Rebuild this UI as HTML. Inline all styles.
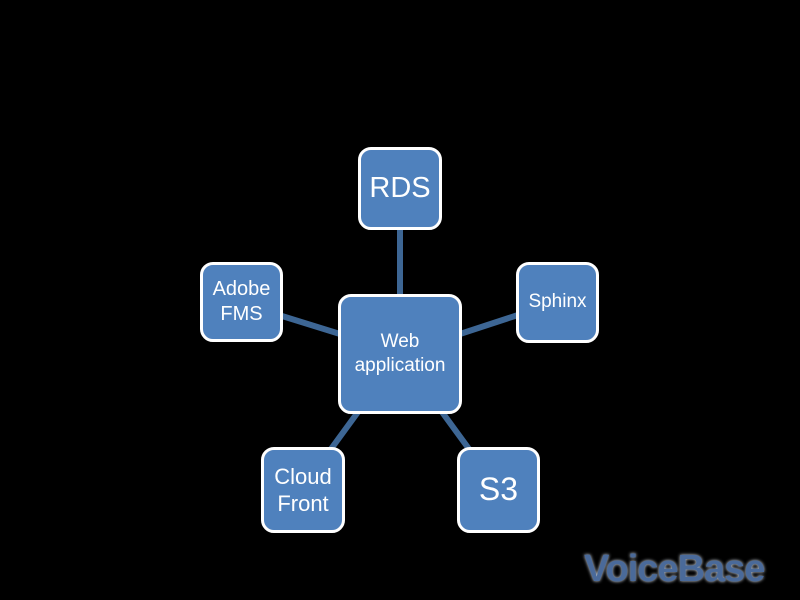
<!DOCTYPE html>
<html><head><style>
html,body{margin:0;padding:0;background:#000;width:800px;height:600px;overflow:hidden;position:relative;font-family:"Liberation Sans",sans-serif}
.b{position:absolute;box-sizing:border-box;background:#4f81bd;border:3px solid #fff;border-radius:13px;color:#fff;display:flex;align-items:center;justify-content:center;text-align:center;line-height:1.3}
</style></head><body>
<svg width="800" height="600" style="position:absolute;left:0;top:0">
<g stroke="#3d6694" stroke-width="6">
<line x1="400" y1="228" x2="400" y2="296"/>
<line x1="282" y1="316" x2="340" y2="334"/>
<line x1="518" y1="315" x2="460" y2="334"/>
<line x1="331" y1="449" x2="358" y2="412"/>
<line x1="469" y1="449" x2="442" y2="412"/>
</g></svg>
<div class="b" style="left:358px;top:147px;width:84px;height:83px;font-size:29px">RDS</div>
<div class="b" style="left:200px;top:262px;width:83px;height:80px;font-size:20px;line-height:1.25">Adobe<br>FMS</div>
<div class="b" style="left:516px;top:262px;width:83px;height:81px;font-size:19px">Sphinx</div>
<div class="b" style="left:338px;top:294px;width:124px;height:120px;font-size:19px;line-height:1.25">Web<br>application</div>
<div class="b" style="left:261px;top:447px;width:84px;height:86px;font-size:22px;line-height:1.25">Cloud<br>Front</div>
<div class="b" style="left:457px;top:447px;width:83px;height:86px;font-size:32px">S3</div>
<div style="position:absolute;left:584px;top:548px;font-size:38px;font-weight:bold;color:#4a6a9a;letter-spacing:-1px;text-shadow:0 0 3px #dde4ee">VoiceBase</div>
</body></html>
